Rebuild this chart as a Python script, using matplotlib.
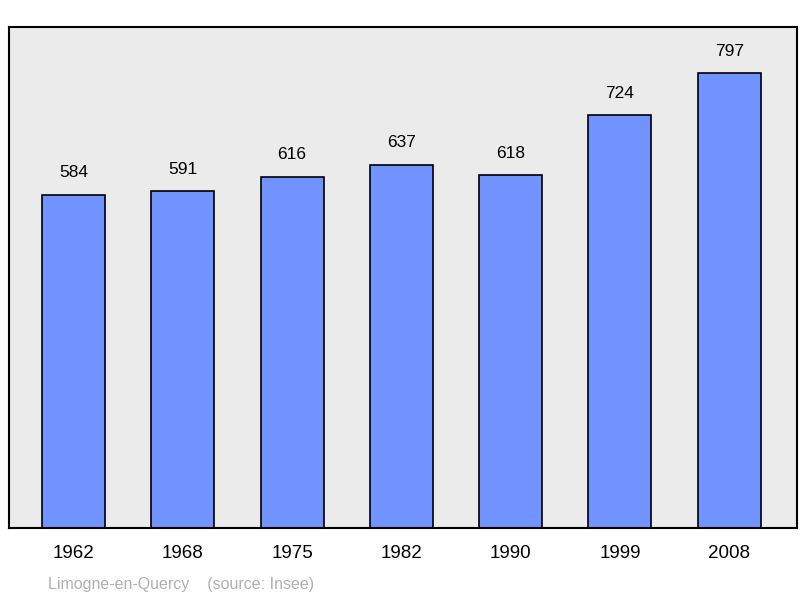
import matplotlib
matplotlib.use("Agg")
import matplotlib.pyplot as plt

years = ["1962", "1968", "1975", "1982", "1990", "1999", "2008"]
population = [584, 591, 616, 637, 618, 724, 797]

plt.rcParams['font.family'] = ['Liberation Sans', 'DejaVu Sans']
fig = plt.figure(figsize=(8, 5.98), dpi=100)
ax = fig.add_axes([9/800, 1-528/598, 788/800, 501/598])
ax.set_facecolor('#ebebeb')
x = list(range(len(years)))
ax.bar(x, population, width=0.576, color='#7093ff', edgecolor='black', linewidth=1.2, zorder=2)
for xi, v in zip(x, population):
    ax.text(xi, v + 25, str(v), ha='center', va='bottom', fontsize=12.5)
ax.set_xlim(-0.59, 6.62)
ax.set_ylim(0, 878)
ax.set_yticks([])
ax.set_xticks(x)
ax.set_xticklabels(years, fontsize=13.5)
ax.tick_params(axis='x', length=0, pad=12)
for s in ax.spines.values():
    s.set_linewidth(1.5)
fig.text(48/800, 1-584/598, "Limogne-en-Quercy    (source: Insee)", color='#b0b0b0', fontsize=11.5, va='center')
fig.savefig('out.png', dpi=100)
